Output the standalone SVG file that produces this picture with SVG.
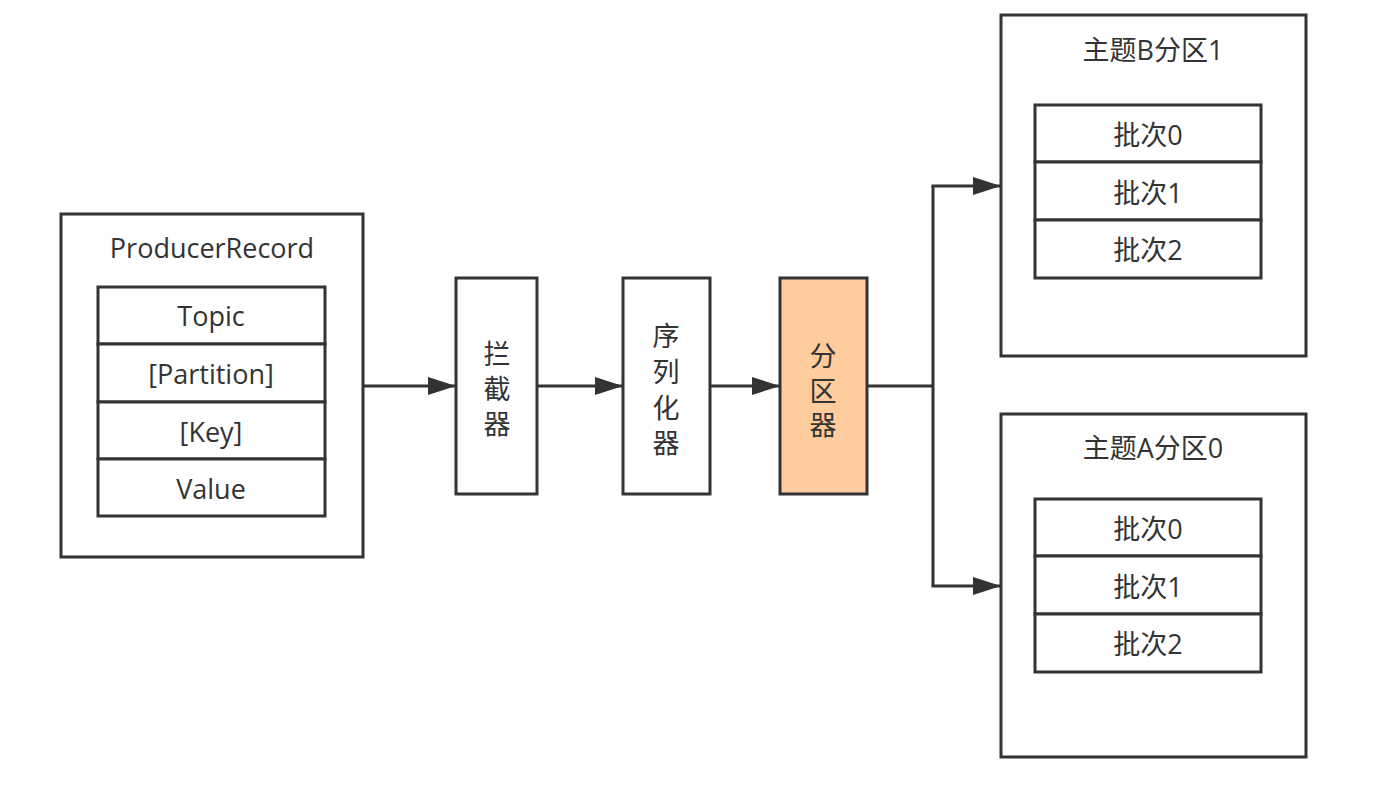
<svg xmlns="http://www.w3.org/2000/svg" width="1374" height="792" viewBox="0 0 1374 792">
<defs>
<style>
.box{fill:#fff;stroke:#333;stroke-width:3}
.hot{fill:#FFCC9E;stroke:#333;stroke-width:3}
.t{font-family:"Open Sans","Noto Sans CJK SC",sans-serif;font-size:27px;fill:#333;text-anchor:middle;dominant-baseline:central}
.c{fill:none;stroke:#333;stroke-width:3}
</style>
<marker id="a" viewBox="0 0 28 18" refX="28" refY="9" markerWidth="28" markerHeight="18" orient="auto" markerUnits="userSpaceOnUse">
<path d="M0,0 L28,9 L0,18 Z" fill="#333"/>
</marker>
</defs>
<g id="producer-record">
<rect class="box" x="61" y="214" width="302" height="343"/>
<text class="t" x="212" y="247">ProducerRecord</text>
<rect class="box" x="98" y="287" width="227" height="57"/>
<text class="t" x="211" y="315">Topic</text>
<rect class="box" x="98" y="344" width="227" height="58"/>
<text class="t" x="211" y="373">[Partition]</text>
<rect class="box" x="98" y="402" width="227" height="57"/>
<text class="t" x="211" y="431">[Key]</text>
<rect class="box" x="98" y="459" width="227" height="57"/>
<text class="t" x="211" y="488">Value</text>
</g>
<g id="interceptor">
<rect class="box" x="456" y="278" width="81" height="216"/>
<text class="t" x="497" y="353">拦</text>
<text class="t" x="497" y="388">截</text>
<text class="t" x="497" y="423">器</text>
</g>
<g id="serializer">
<rect class="box" x="623" y="278" width="87" height="216"/>
<text class="t" x="666" y="335">序</text>
<text class="t" x="666" y="371">列</text>
<text class="t" x="666" y="407">化</text>
<text class="t" x="666" y="442">器</text>
</g>
<g id="partitioner">
<rect class="hot" x="780" y="278" width="87" height="216"/>
<text class="t" x="823" y="355">分</text>
<text class="t" x="823" y="390">区</text>
<text class="t" x="823" y="424">器</text>
</g>
<g id="topic-b-partition-1">
<rect class="box" x="1001" y="15" width="305" height="341"/>
<text class="t" x="1153" y="49">主题B分区1</text>
<rect class="box" x="1035" y="105" width="226" height="57"/>
<text class="t" x="1148" y="134">批次0</text>
<rect class="box" x="1035" y="162" width="226" height="58"/>
<text class="t" x="1148" y="192">批次1</text>
<rect class="box" x="1035" y="220" width="226" height="58"/>
<text class="t" x="1148" y="249">批次2</text>
</g>
<g id="topic-a-partition-0">
<rect class="box" x="1001" y="414" width="305" height="343"/>
<text class="t" x="1153" y="447">主题A分区0</text>
<rect class="box" x="1035" y="499" width="226" height="57"/>
<text class="t" x="1148" y="528">批次0</text>
<rect class="box" x="1035" y="556" width="226" height="58"/>
<text class="t" x="1148" y="586">批次1</text>
<rect class="box" x="1035" y="614" width="226" height="58"/>
<text class="t" x="1148" y="643">批次2</text>
</g>
<g id="connectors">
<path class="c" d="M363,386 L456,386" marker-end="url(#a)"/>
<path class="c" d="M537,386 L623,386" marker-end="url(#a)"/>
<path class="c" d="M710,386 L780,386" marker-end="url(#a)"/>
<path class="c" d="M867,386 L933,386"/>
<path class="c" d="M933,186 L933,586"/>
<path class="c" d="M931.5,186 L1001,186" marker-end="url(#a)"/>
<path class="c" d="M931.5,586 L1001,586" marker-end="url(#a)"/>
</g>
</svg>
